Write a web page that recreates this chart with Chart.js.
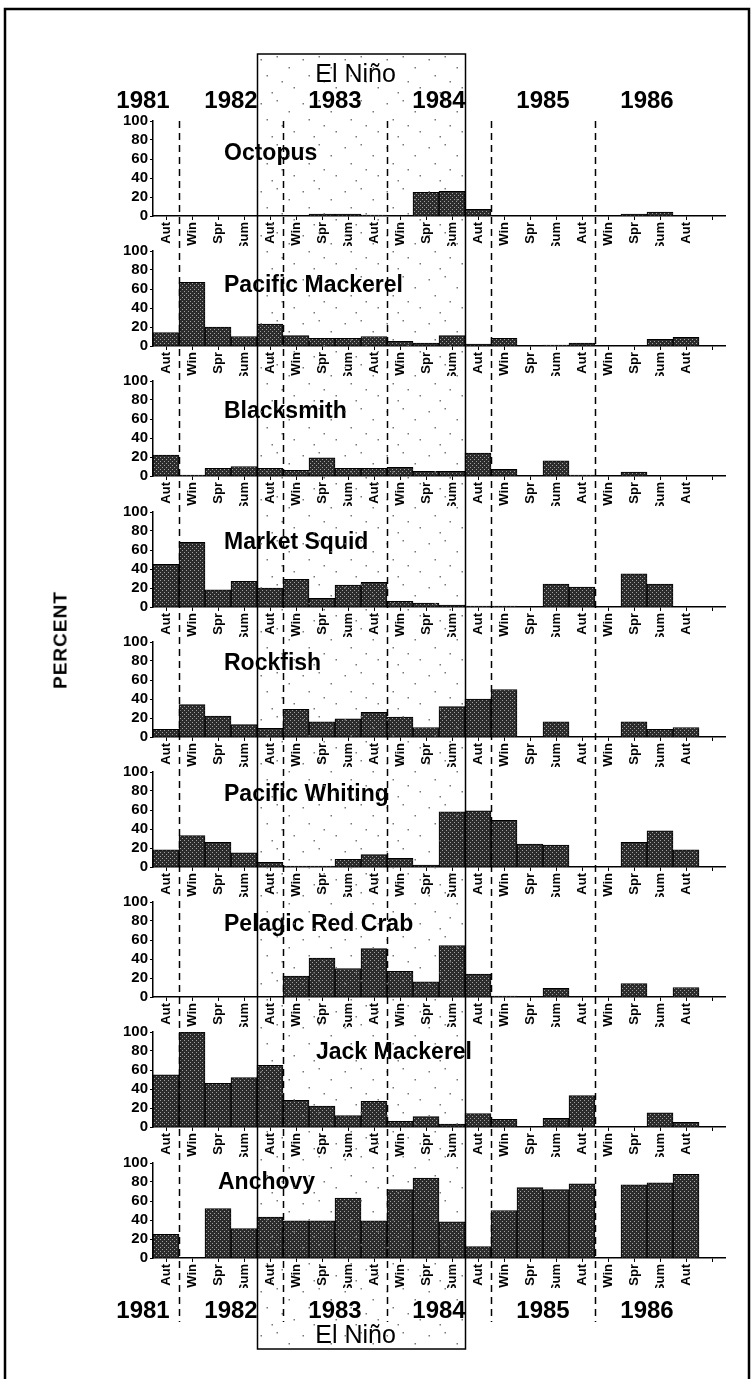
<!DOCTYPE html>
<html>
<head>
<meta charset="utf-8">
<script src="https://cdn.jsdelivr.net/npm/chart.js@4.4.0/dist/chart.umd.min.js"></script>
<style>
body { margin: 0; background: #fff; }
#wrap { position: relative; width: 753px; height: 1379px; overflow: hidden; background: #fff; font-family: "Liberation Sans", Arial, sans-serif; }
canvas.panel { position: absolute; left: 0; z-index: 1; }
#overlay { position: absolute; left: 0; top: 0; z-index: 5; pointer-events: none; }
.lbl { position: absolute; z-index: 6; color: #000; white-space: nowrap; line-height: 1; transform: translate(-50%, -50%); }
.yr { font-weight: bold; font-size: 24px; }
.nino { font-size: 25px; }
#percent { font-weight: bold; font-size: 19px; transform: translate(-50%, -50%) rotate(-90deg); letter-spacing: 1px; }
</style>
</head>
<body>
<div id="wrap">
  <canvas id="overlay" width="753" height="1379"></canvas>
</div>
<script>
// seasons along the x axis, Aut 1981 .. Aut 1986, plus one empty slot at the end
let seasons = ["Aut", "Win", "Spr", "Sum", "Aut", "Win", "Spr", "Sum", "Aut", "Win", "Spr", "Sum",
               "Aut", "Win", "Spr", "Sum", "Aut", "Win", "Spr", "Sum", "Aut", ""];
let years = ["1981", "1982", "1983", "1984", "1985", "1986"];
let species = ["Octopus", "Pacific Mackerel", "Blacksmith", "Market Squid", "Rockfish",
               "Pacific Whiting", "Pelagic Red Crab", "Jack Mackerel", "Anchovy"];
let yTicks = [0, 20, 40, 60, 80, 100];

// percent values
let octopus         = [0, 0, 0, 0, 0, 0, 2, 2, 1, 0, 25, 26, 7, 0, 0, 0, 0, 0, 2, 4, 0];
let pacificMackerel = [14, 67, 20, 10, 23, 11, 8, 8, 10, 5, 3, 11, 2, 8, 0, 1, 3, 0, 0, 7, 9];
let blacksmith      = [22, 1, 8, 10, 8, 6, 19, 8, 8, 9, 5, 5, 24, 7, 0, 16, 1, 0, 4, 0, 0];
let marketSquid     = [45, 68, 18, 27, 20, 29, 9, 23, 26, 6, 4, 2, 1, 1, 0, 24, 21, 0, 35, 24, 0];
let rockfish        = [8, 34, 22, 13, 9, 29, 16, 19, 26, 21, 10, 32, 40, 50, 0, 16, 0, 0, 16, 8, 10];
let pacificWhiting  = [18, 33, 26, 15, 5, 1, 1, 8, 13, 9, 2, 58, 59, 49, 24, 23, 0, 0, 26, 38, 18];
let pelagicRedCrab  = [0, 0, 0, 0, 0, 22, 41, 30, 51, 27, 16, 54, 24, 1, 0, 9, 0, 0, 14, 0, 10];
let jackMackerel    = [55, 100, 46, 52, 65, 28, 22, 12, 27, 6, 11, 3, 14, 8, 0, 9, 33, 0, 0, 15, 5];
let anchovy         = [25, 0, 52, 31, 43, 39, 39, 63, 39, 72, 84, 38, 12, 50, 74, 72, 78, 0, 77, 79, 88];

let seriesList = [octopus, pacificMackerel, blacksmith, marketSquid, rockfish,
                  pacificWhiting, pelagicRedCrab, jackMackerel, anchovy];

// layout
let fontFamily = '"Liberation Sans", Arial, sans-serif';
let panelTop0 = 121, panelPitch = 130.2, plotH = 95, padTop = 12, xAxisH = 30, padBottom = 16;
let titleLeft = [224, 224, 224, 224, 224, 224, 224, 316, 218];
let titleLevel = [66, 64, 68, 68, 77, 76, 76, 78, 79];

Chart.defaults.font.family = fontFamily;

let wrap = document.getElementById('wrap');

function barFill(ctx) {
    let tile = document.createElement('canvas');
    tile.width = 4; tile.height = 4;
    let g = tile.getContext('2d');
    g.fillStyle = '#2c2c2c';
    g.fillRect(0, 0, 4, 4);
    g.fillStyle = '#a0a0a0';
    g.fillRect(0, 0, 1, 1);
    g.fillRect(2, 2, 1, 1);
    return ctx.createPattern(tile, 'repeat');
}

let panelTitle = {
    id: 'panelTitle',
    afterDatasetsDraw(chart, args, opts) {
        let c = chart.ctx;
        c.save();
        c.font = 'bold 23px ' + fontFamily;
        c.fillStyle = '#000';
        c.textBaseline = 'middle';
        c.fillText(opts.text, opts.x, chart.scales.y.getPixelForValue(opts.level));
        c.restore();
    }
};

let charts = [];

species.forEach((name, i) => {
    let cv = document.createElement('canvas');
    cv.className = 'panel';
    cv.width = 753;
    cv.height = padTop + plotH + xAxisH + padBottom;
    cv.style.top = (Math.round(panelTop0 + panelPitch * i) - padTop) + 'px';
    wrap.appendChild(cv);
    let ctx = cv.getContext('2d');

    charts.push(new Chart(ctx, {
        type: 'bar',
        data: {
            labels: seasons,
            datasets: [{
                data: seriesList[i],
                backgroundColor: barFill(ctx),
                borderColor: '#000',
                borderWidth: 1,
                barPercentage: 1,
                categoryPercentage: 1
            }]
        },
        options: {
            responsive: false,
            animation: false,
            layout: { padding: { left: 100, right: 28, top: padTop, bottom: padBottom } },
            plugins: {
                legend: { display: false },
                tooltip: { enabled: false },
                panelTitle: { text: name, x: titleLeft[i], level: titleLevel[i] }
            },
            scales: {
                x: {
                    offset: true,
                    grid: { drawOnChartArea: false, offset: false, tickLength: 4, color: '#000', lineWidth: 1 },
                    border: { color: '#000', width: 1.5 },
                    ticks: {
                        autoSkip: false, maxRotation: 90, minRotation: 90, padding: 2,
                        color: '#000', font: { size: 13, weight: 'bold' }
                    },
                    afterFit(s) { s.height = xAxisH; }
                },
                y: {
                    min: yTicks[0],
                    max: yTicks[yTicks.length - 1],
                    afterBuildTicks(s) { s.ticks = yTicks.map(v => ({ value: v })); },
                    grid: { drawOnChartArea: false, tickLength: 3, color: '#000' },
                    border: { color: '#000', width: 1.5 },
                    ticks: { autoSkip: false, padding: 2, color: '#000', font: { size: 15, weight: 'bold' } },
                    afterFit(s) { s.width = 53; }
                }
            }
        },
        plugins: [panelTitle]
    }));
});

// overlay: frame, El Nino box, year dividers
let xs = charts[0].scales.x;
function edge(i) {
    return (xs.getPixelForValue(i - 1) + xs.getPixelForValue(i)) / 2;
}

let o = document.getElementById('overlay').getContext('2d');

o.strokeStyle = '#000';
o.lineWidth = 2.5;
o.beginPath();
o.moveTo(5, 1379);
o.lineTo(5, 9);
o.lineTo(749, 9);
o.lineTo(749, 1379);
o.stroke();

let boxL = Math.round(edge(4)) + 0.5, boxR = Math.round(edge(12)) + 0.5;
let boxTop = 54, boxBottom = 1349;

// speckle inside the El Nino box
o.fillStyle = '#777';
let dots = [[3, 5], [19, 2], [31, 13], [9, 21], [24, 27], [36, 33], [14, 38]];
for (let ty = boxTop; ty < boxBottom; ty += 44) {
    for (let tx = boxL; tx < boxR; tx += 42) {
        dots.forEach(d => {
            if (tx + d[0] < boxR - 2 && ty + d[1] < boxBottom - 2) o.fillRect(tx + d[0], ty + d[1], 1.5, 1.5);
        });
    }
}

o.lineWidth = 1.5;
o.strokeRect(boxL, boxTop, boxR - boxL, boxBottom - boxTop);

o.setLineDash([7, 5]);
[1, 5, 9, 13, 17].forEach(k => {
    let x = Math.round(edge(k)) + 0.5;
    o.beginPath();
    o.moveTo(x, panelTop0);
    o.lineTo(x, 1322);
    o.stroke();
});
o.setLineDash([]);

function addLabel(text, cls, x, y, id) {
    let d = document.createElement('div');
    d.className = 'lbl ' + cls;
    if (id) d.id = id;
    d.textContent = text;
    d.style.left = x + 'px';
    d.style.top = y + 'px';
    wrap.appendChild(d);
}

// years, top and bottom
let yearX = [143, edge(3), edge(7), edge(11), edge(15), edge(19)];
years.forEach((yr, k) => {
    addLabel(yr, 'yr', yearX[k], 100);
    addLabel(yr, 'yr', yearX[k], 1310);
});

let ninoX = (boxL + boxR) / 2 - 6;
addLabel('El Niño', 'nino', ninoX, 73);
addLabel('El Niño', 'nino', ninoX, 1334);
addLabel('PERCENT', '', 60, 640, 'percent');
</script>
</body>
</html>
